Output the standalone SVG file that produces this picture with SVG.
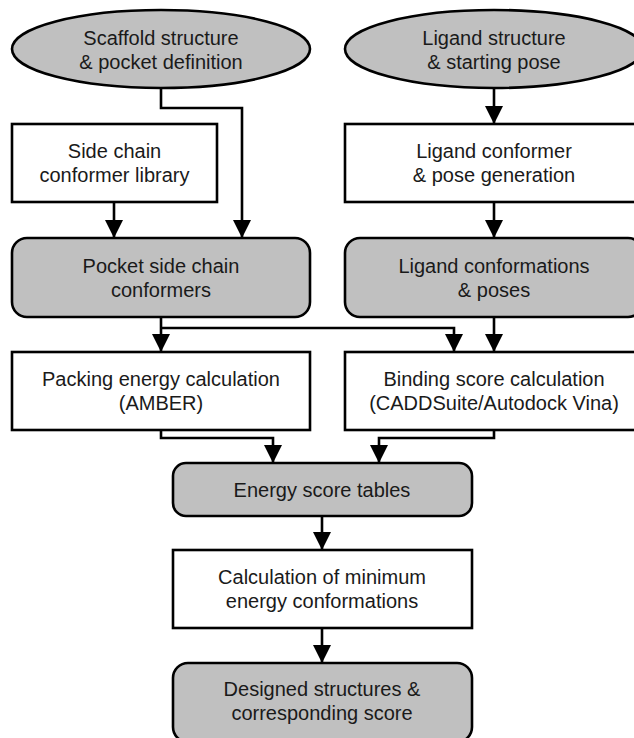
<svg xmlns="http://www.w3.org/2000/svg" width="634" height="738" viewBox="0 0 634 738">
<style>
.n{stroke:#000;stroke-width:2.6}
.g{fill:#c0c0c0}
.w{fill:#fff}
text{font-family:"Liberation Sans",Arial,sans-serif;font-size:20px;fill:#1a1a1a;text-anchor:middle}
.c path{fill:none;stroke:#000;stroke-width:2.6;marker-end:url(#a)}
</style>
<defs>
<marker id="a" markerUnits="userSpaceOnUse" markerWidth="19" markerHeight="19" viewBox="0 0 19 19" refX="18" refY="9.5" orient="auto">
<path d="M0,0.5 L18,9.5 L0,18.5 Z" fill="#000"/>
</marker>
</defs>
<rect width="634" height="738" fill="#fff"/>
<g id="scaffold"><ellipse class="n g" cx="161" cy="49" rx="149" ry="39"/><text x="161" y="45">Scaffold structure</text><text x="161" y="69">&amp; pocket definition</text></g>
<g id="ligand"><ellipse class="n g" cx="494" cy="49" rx="149" ry="39"/><text x="494" y="45">Ligand structure</text><text x="494" y="69">&amp; starting pose</text></g>
<g id="sidechain"><rect class="n w" x="12" y="124" width="205" height="78"/><text x="114.5" y="158">Side chain</text><text x="114.5" y="182">conformer library</text></g>
<g id="ligconf"><rect class="n w" x="345" y="124" width="298" height="78"/><text x="494" y="158">Ligand conformer</text><text x="494" y="182">&amp; pose generation</text></g>
<g id="pocket"><rect class="n g" x="12" y="238" width="298" height="79" rx="15"/><text x="161" y="273">Pocket side chain</text><text x="161" y="297">conformers</text></g>
<g id="ligposes"><rect class="n g" x="345" y="238" width="298" height="79" rx="15"/><text x="494" y="273">Ligand conformations</text><text x="494" y="297">&amp; poses</text></g>
<g id="packing"><rect class="n w" x="12" y="352" width="298" height="78"/><text x="161" y="386">Packing energy calculation</text><text x="161" y="410">(AMBER)</text></g>
<g id="binding"><rect class="n w" x="345" y="352" width="298" height="78"/><text x="494" y="386">Binding score calculation</text><text x="494" y="410">(CADDSuite/Autodock Vina)</text></g>
<g id="energy"><rect class="n g" x="173" y="463" width="299" height="53" rx="13"/><text x="322" y="497">Energy score tables</text></g>
<g id="minimum"><rect class="n w" x="173" y="550" width="299" height="78"/><text x="322" y="584">Calculation of minimum</text><text x="322" y="608">energy conformations</text></g>
<g id="designed"><rect class="n g" x="173" y="663" width="299" height="79" rx="15"/><text x="322" y="696">Designed structures &amp;</text><text x="322" y="720">corresponding score</text></g>
<g id="connectors" class="c">
<path d="M161,88 V108 H242 V238"/>
<path d="M114,202 V238"/>
<path d="M494,88 V124"/>
<path d="M494,202 V238"/>
<path d="M161,317 V352"/>
<path d="M161,328 H454 V352"/>
<path d="M494,317 V352"/>
<path d="M161,430 V438 H273 V463"/>
<path d="M494,430 V438 H379 V463"/>
<path d="M322,516 V550"/>
<path d="M322,628 V663"/>
</g>
</svg>
